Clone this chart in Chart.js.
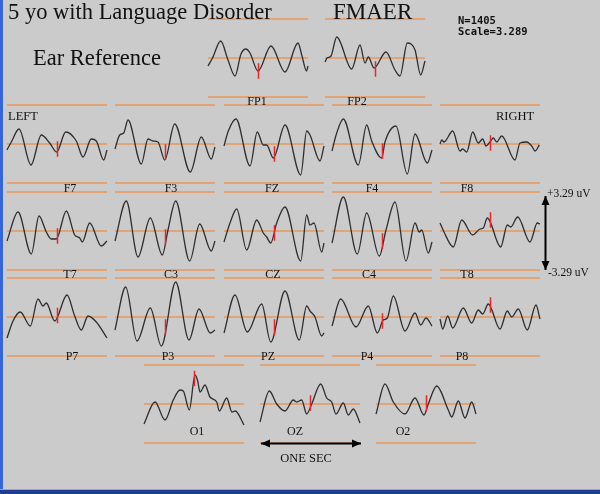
<!DOCTYPE html>
<html lang="en">
<head>
<meta charset="UTF-8">
<title>FMAER - Ear Reference</title>
<script src="https://cdn.jsdelivr.net/npm/chart.js"></script>
<style>
  html, body { margin: 0; padding: 0; background: #cbcbcb; }
  #wrap { position: relative; width: 600px; height: 494px; }
</style>
</head>
<body>
<div id="wrap"><canvas id="eeg" width="600" height="494"></canvas></div>
<script>
// channels, in drawing order
const channels = ['FP1','FP2','F7','F3','FZ','F4','F8','T7','C3','CZ','C4','T8','P7','P3','PZ','P4','P8','O1','OZ','O2'];

// averaged waveforms: [time ms, amplitude] with 39 units = 3.29 uV (full scale)
const FP1 = [[0,-8],[45,0],[127,17],[200,-2],[270,-18],[330,4],[380,9],[420,5],[500,-13],[630,12],[770,-14],[900,15],[940,2],[985,-13],[1000,-8]];
const FP2 = [[0,-4],[20,0],[60,2],[117,21],[267,-11],[350,13],[400,-5],[433,1],[490,-10],[610,6],[700,-12],[750,-18],[823,15],[900,8],[957,-17],[1000,-3]];
const F7  = [[0,-6],[43,2],[120,15],[240,-21],[343,9],[427,1],[497,-8],[587,12],[693,3],[760,-13],[843,5],[893,3],[967,-16],[1000,-6]];
const F3  = [[0,-5],[47,9],[87,11],[130,24],[263,-20],[330,5],[380,3],[430,2],[497,-16],[597,20],[753,-28],[863,7],[963,-15],[1000,-3]];
const FZ  = [[0,-2],[43,13],[120,25],[260,-22],[333,12],[393,-1],[427,-1],[493,-14],[610,19],[767,-31],[827,13],[860,9],[960,-17],[1000,-2]];
const F4  = [[0,-7],[47,11],[113,25],[263,-21],[347,19],[397,3],[497,-14],[530,2],[640,18],[753,-30],[830,10],[953,-19],[1000,-6]];
const F8  = [[0,0],[17,4],[40,2],[127,13],[200,-7],[227,-5],[267,-8],[327,12],[383,1],[427,5],[460,-2],[507,3],[533,6],[567,2],[617,8],[750,-16],[800,1],[867,2],[917,-2],[950,-7],[993,-1]];
const T7  = [[0,-10],[110,19],[243,-23],[320,15],[393,-1],[443,-8],[493,-8],[593,20],[677,-4],[727,-7],[753,-11],[827,8],[943,-15],[1000,-10]];
const C3  = [[0,-10],[113,30],[230,-26],[353,13],[473,-24],[530,1],[607,30],[747,-30],[847,7],[963,-20],[1000,-10]];
const CZ  = [[0,-11],[60,8],[127,22],[227,-19],[327,11],[393,-2],[427,-6],[467,-12],[527,8],[610,24],[767,-30],[827,16],[860,6],[900,8],[977,-21],[1000,-12]];
const C4  = [[0,-12],[113,34],[253,-23],[347,18],[473,-25],[540,1],[630,29],[740,-30],[830,8],[873,-1],[897,1],[963,-22],[1000,-11]];
const T8  = [[0,8],[40,-1],[133,-16],[217,11],[327,-4],[400,2],[433,3],[473,13],[607,-16],[673,6],[707,4],[777,14],[900,-11],[973,8],[1000,7]];
const P7  = [[0,-21],[60,-4],[133,5],[233,-9],[310,18],[360,11],[393,14],[477,-4],[600,22],[677,1],[743,-13],[810,1],[893,-5],[1000,-21]];
const P3  = [[0,-13],[107,30],[220,-24],[353,9],[463,-29],[607,35],[740,-23],[840,8],[953,-16],[1000,-13]];
const PZ  = [[0,-16],[110,22],[233,-15],[377,13],[467,-25],[610,26],[753,-23],[827,11],[860,6],[910,0],[977,-19],[1000,-16]];
const P4  = [[0,-9],[87,18],[240,-10],[363,11],[453,-16],[513,-3],[553,-1],[613,21],[730,-14],[830,4],[887,-8],[940,-1],[1000,-9]];
const P8  = [[0,-2],[27,-12],[77,1],[127,-11],[233,9],[317,-6],[383,7],[427,3],[483,13],[600,-12],[673,6],[717,0],[783,8],[873,-13],[960,12],[1000,-2]];
const O1  = [[0,-20],[110,2],[210,-16],[293,4],[360,14],[393,13],[453,-6],[510,29],[537,23],[560,12],[610,19],[660,7],[727,2],[753,-7],[827,6],[880,-8],[913,-7],[1000,-21]];
const OZ  = [[0,-18],[93,13],[167,0],[250,-7],[333,4],[367,2],[417,4],[467,-10],[517,0],[607,20],[667,6],[717,2],[760,-10],[833,1],[883,-11],[933,-5],[1000,-19]];
const O2  = [[0,-10],[90,20],[173,2],[290,-10],[390,6],[480,-11],[523,0],[607,18],[723,-6],[757,-13],[823,3],[890,-14],[957,2],[1000,-10]];

// level of the stimulus marker (same units), per channel
const stimLevel = [-13,-11,-5,-8,-10,-7,1,-5,-6,-2,-10,11,1.5,-10,-10,-4,12,25.5,1,1];

const waves = {FP1,FP2,F7,F3,FZ,F4,F8,T7,C3,CZ,C4,T8,P7,P3,PZ,P4,P8,O1,OZ,O2};

// layout: panel left edge and baseline (page px), label centre
const PANEL = {
  FP1:[208,58], FP2:[325,58],
  F7:[7,144], F3:[115,144], FZ:[224,144], F4:[332,144], F8:[440,144],
  T7:[7,231], C3:[115,231], CZ:[224,231], C4:[332,231], T8:[440,231],
  P7:[7,317], P3:[115,317], PZ:[224,317], P4:[332,317], P8:[440,317],
  O1:[144,404], OZ:[260,404], O2:[376,404]
};
const LABEL = {
  FP1:[257,102], FP2:[357,102],
  F7:[70,189], F3:[171,189], FZ:[272,189], F4:[372,189], F8:[467,189],
  T7:[70,275], C3:[171,275], CZ:[273,275], C4:[369,275], T8:[467,275],
  P7:[72,357], P3:[168,357], PZ:[268,357], P4:[367,357], P8:[462,357],
  O1:[197,432], OZ:[295,432], O2:[403,432]
};
const FULL = 39;          // 3.29 uV
const PX_PER_MS = 0.1;    // 100 px = one second
const STIM_T = 505;
const STIM_HALF = 7.8;
const ORANGE = '#e8975a';

const datasets = [];
channels.forEach((ch, i) => {
  const [x0, base] = PANEL[ch];
  [-FULL, 0, FULL].forEach(v => {
    datasets.push({ data: [{x: x0, y: base - v}, {x: x0 + 100, y: base - v}],
      borderColor: ORANGE, borderWidth: 1.5, order: 3 });
  });
  datasets.push({
    data: waves[ch].map(([t, v]) => ({x: x0 + t * PX_PER_MS, y: base - v})),
    borderColor: '#2e2e2e', borderWidth: 1.3, cubicInterpolationMode: 'monotone', order: 2
  });
  const m = stimLevel[i];
  const sx = x0 + STIM_T * PX_PER_MS;
  datasets.push({ data: [{x: sx, y: base - m - STIM_HALF}, {x: sx, y: base - m + STIM_HALF}],
    borderColor: '#e8262e', borderWidth: 1.5, order: 1 });
});
datasets.forEach(d => { d.showLine = true; d.pointRadius = 0; d.fill = false; });

function arrow(ctx, x1, y1, x2, y2) {
  const a = Math.atan2(y2 - y1, x2 - x1);
  ctx.beginPath(); ctx.moveTo(x1, y1); ctx.lineTo(x2, y2); ctx.stroke();
  [[x1, y1, a + Math.PI], [x2, y2, a]].forEach(([x, y, ang]) => {
    ctx.beginPath();
    ctx.moveTo(x, y);
    ctx.lineTo(x - 9 * Math.cos(ang) + 4 * Math.sin(ang), y - 9 * Math.sin(ang) - 4 * Math.cos(ang));
    ctx.lineTo(x - 9 * Math.cos(ang) - 4 * Math.sin(ang), y - 9 * Math.sin(ang) + 4 * Math.cos(ang));
    ctx.closePath(); ctx.fill();
  });
}

const decor = {
  id: 'decor',
  beforeDraw(chart) {
    const ctx = chart.ctx;
    ctx.save();
    ctx.fillStyle = '#cbcbcb';
    ctx.fillRect(0, 0, chart.width, chart.height);
    ctx.restore();
  },
  afterDraw(chart) {
    const ctx = chart.ctx;
    const px = v => chart.scales.x.getPixelForValue(v);
    const py = v => chart.scales.y.getPixelForValue(v);
    ctx.save();
    ctx.fillStyle = '#111';
    ctx.textBaseline = 'alphabetic';
    ctx.font = '22.5px "Liberation Serif"';
    ctx.textAlign = 'left';
    ctx.fillText('5 yo with Language Disorder', 8, 18.5);
    ctx.fillText('Ear Reference', 33, 64.5);
    ctx.font = '23px "Liberation Serif"';
    ctx.fillText('FMAER', 333, 18.5);

    ctx.font = 'bold 10.5px "DejaVu Sans Mono"';
    ctx.fillText('N=1405', 458, 24);
    ctx.fillText('Scale=3.289', 458, 34.5);

    ctx.font = '12.5px "Liberation Serif"';
    ctx.fillText('LEFT', 8, 119.5);
    ctx.fillText('RIGHT', 496, 119.5);
    ctx.font = '11.5px "Liberation Serif"';
    ctx.fillText('+3.29 uV', 547, 197);
    ctx.fillText('-3.29 uV', 548, 276);
    ctx.font = '12.5px "Liberation Serif"';
    ctx.textAlign = 'center';
    ctx.fillText('ONE SEC', 306, 462);

    ctx.font = '12px "Liberation Serif"';
    ctx.textBaseline = 'middle';
    channels.forEach(ch => {
      const [lx, ly] = LABEL[ch];
      ctx.fillText(ch, px(lx), py(ly));
    });

    ctx.strokeStyle = '#000'; ctx.fillStyle = '#000'; ctx.lineWidth = 2;
    arrow(ctx, px(545.5), py(196), px(545.5), py(270));
    arrow(ctx, px(261), py(443.5), px(361), py(443.5));

    // window borders
    ctx.fillStyle = '#3565d8';
    ctx.fillRect(0, 0, 3, chart.height);
    ctx.fillStyle = '#9aa4b8';
    ctx.fillRect(0, 489, chart.width, 1);
    ctx.fillStyle = '#1f3d95';
    ctx.fillRect(0, 490, chart.width, 4);
    ctx.restore();
  }
};

new Chart(document.getElementById('eeg'), {
  type: 'scatter',
  data: { datasets },
  options: {
    responsive: false,
    animation: false,
    devicePixelRatio: 1,
    events: [],
    layout: { padding: 0 },
    plugins: { legend: { display: false }, tooltip: { enabled: false } },
    scales: {
      x: { type: 'linear', min: 0, max: 600, display: false },
      y: { type: 'linear', min: 0, max: 494, reverse: true, display: false }
    }
  },
  plugins: [decor]
});
</script>
</body>
</html>
